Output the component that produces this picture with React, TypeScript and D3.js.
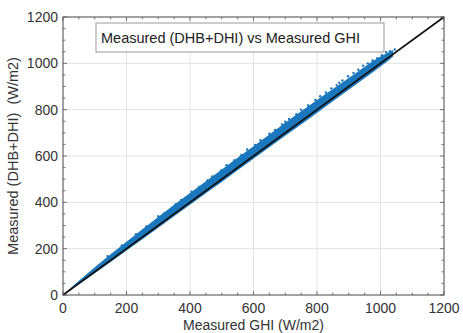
import React from "react";
import * as d3 from "d3";

// band envelope (GHI -> upper / lower edge of the dense cloud)
const bandGhi = [0, 50, 100, 200, 300, 400, 500, 600, 700, 800, 900, 1000, 1040];
const bandUpper = [2, 62, 120, 230, 337, 440, 542, 642, 744, 842, 937, 1030, 1058];
const bandLower = [0, 46, 94, 192, 290, 390, 488, 588, 687, 786, 886, 986, 1030];

// scattered points sitting outside the band
const outliers: [number, number][] = [
  [140, 168], [185, 214], [230, 262], [262, 296], [300, 340], [318, 352],
  [355, 392], [372, 410], [405, 446], [428, 466], [455, 495], [470, 512],
  [498, 538], [515, 560], [540, 582], [562, 604], [580, 628], [605, 648],
  [622, 668], [650, 696], [668, 712], [690, 736], [712, 760], [735, 780],
  [750, 800], [772, 818], [795, 842], [810, 858], [828, 874], [845, 892],
  [862, 906], [880, 926], [898, 944], [915, 958], [930, 972], [945, 990],
  [960, 1000], [975, 1012], [990, 1022], [1005, 1035], [1018, 1048],
  [1030, 1052], [1045, 1060], [560, 598], [700, 748], [870, 916]
];

const xTicks = [0, 200, 400, 600, 800, 1000, 1200];
const yTicks = [0, 200, 400, 600, 800, 1000, 1200];
const minorTicks = d3.range(0, 1201, 50);

const title = "Measured (DHB+DHI) vs Measured GHI";
const xLabel = "Measured GHI (W/m2)";
const yLabel = "Measured (DHB+DHI)  (W/m2)";

const W = 463;
const H = 333;
const m = { left: 63, right: 19, top: 17, bottom: 38 };

export default function App() {
  const x = d3.scaleLinear().domain([0, 1200]).range([m.left, W - m.right]);
  const y = d3.scaleLinear().domain([0, 1200]).range([H - m.bottom, m.top]);
  const x0 = x(0), x1 = x(1200), y0 = y(0), y1 = y(1200);

  const band = d3
    .area<number>()
    .x((_, i) => x(bandGhi[i]))
    .y0((_, i) => y(bandLower[i]))
    .y1((_, i) => y(bandUpper[i]))
    .curve(d3.curveMonotoneX);

  const blue = "#1a77bd";
  const axisCol = "#555";
  const font = "Arial, 'Liberation Sans', sans-serif";

  return (
    <svg width={W} height={H} style={{ position: "absolute", left: 0, top: 0, background: "#fff" }} fontFamily={font}>
      {/* grid */}
      {xTicks.map((t) => (
        <line key={"gx" + t} x1={x(t)} x2={x(t)} y1={y0} y2={y1} stroke="#e3e3e3" />
      ))}
      {yTicks.map((t) => (
        <line key={"gy" + t} x1={x0} x2={x1} y1={y(t)} y2={y(t)} stroke="#e3e3e3" />
      ))}

      {/* data */}
      <path d={band(bandGhi) || ""} fill={blue} />
      {outliers.map((p, i) => (
        <circle key={i} cx={x(p[0])} cy={y(p[1])} r={1.2} fill={blue} />
      ))}
      <line x1={x(0)} y1={y(0)} x2={x(1200)} y2={y(1200)} stroke="#111" strokeWidth={1.6} />

      {/* ticks */}
      {minorTicks.map((t) => {
        const len = t % 200 === 0 ? 4 : 2.5;
        return (
          <g key={"t" + t} stroke={axisCol} strokeWidth={0.8}>
            <line x1={x(t)} x2={x(t)} y1={y0} y2={y0 - len} />
            <line x1={x(t)} x2={x(t)} y1={y1} y2={y1 + len} />
            <line x1={x0} x2={x0 + len} y1={y(t)} y2={y(t)} />
            <line x1={x1} x2={x1 - len} y1={y(t)} y2={y(t)} />
          </g>
        );
      })}
      <rect x={x0} y={y1} width={x1 - x0} height={y0 - y1} fill="none" stroke={axisCol} strokeWidth={1} />

      {/* tick labels */}
      {xTicks.map((t) => (
        <text key={"lx" + t} x={x(t)} y={y0 + 18} textAnchor="middle" fontSize={14} fill="#333">
          {t}
        </text>
      ))}
      {yTicks.map((t) => (
        <text key={"ly" + t} x={x0 - 5} y={y(t) + 5} textAnchor="end" fontSize={14} fill="#333">
          {t}
        </text>
      ))}

      {/* axis labels */}
      <text x={(x0 + x1) / 2} y={H - 3} textAnchor="middle" fontSize={14} fill="#333">
        {xLabel}
      </text>
      <text
        transform={`translate(18,${(y0 + y1) / 2}) rotate(-90)`}
        textAnchor="middle"
        fontSize={14.5}
        fill="#333"
        style={{ whiteSpace: "pre" }}
      >
        {yLabel}
      </text>

      {/* legend / title box */}
      <rect x={96} y={23} width={288} height={29} fill="#fff" stroke="#999" />
      <text x={101} y={42.5} fontSize={14.5} fill="#222">
        {title}
      </text>
    </svg>
  );
}
